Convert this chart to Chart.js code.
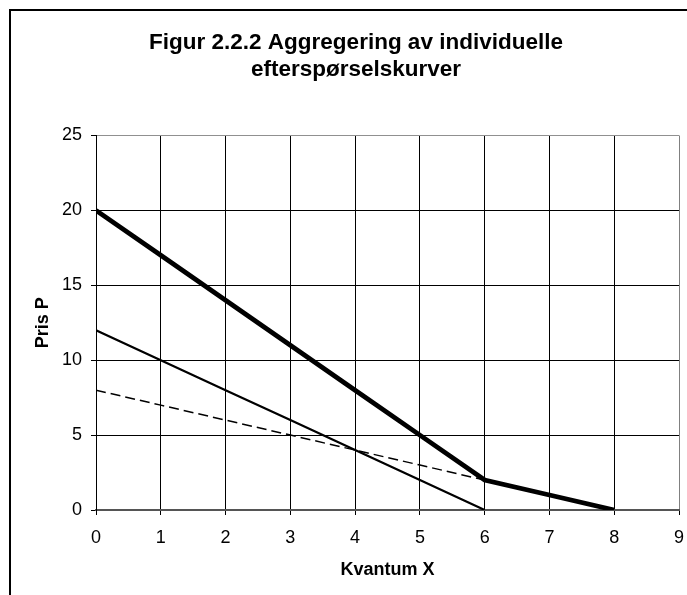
<!DOCTYPE html>
<html>
<head>
<meta charset="utf-8">
<script src="https://cdn.jsdelivr.net/npm/chart.js@4/dist/chart.umd.min.js"></script>
<style>
  html, body { margin: 0; padding: 0; background: #fff; overflow: hidden; }
  #wrap { position: relative; width: 687px; height: 595px; }
  #c { position: absolute; left: 0; top: 0; }
  #frame { position: absolute; left: 9px; top: 9px; width: 800px; height: 700px;
           border-left: 2px solid #000; border-top: 2px solid #000; pointer-events: none; }
</style>
</head>
<body>
<div id="wrap">
  <canvas id="c" width="687" height="595" style="width:687px;height:595px"></canvas>
  <div id="frame"></div>
</div>
<script>
// ---- data ----
const titleLines = ['Figur 2.2.2 Aggregering av individuelle', 'efterspørselskurver'];
const xAxisTitle = 'Kvantum X';
const yAxisTitle = 'Pris P';

const aggregateX = [0, 1, 2, 3, 4, 5, 6, 7, 8];
const aggregateP = [20, 17, 14, 11, 8, 5, 2, 1, 0];

const consumerAX = [0, 1, 2, 3, 4, 5, 6];
const consumerAP = [12, 10, 8, 6, 4, 2, 0];

const consumerBX = [0, 1, 2, 3, 4, 5, 6];
const consumerBP = [8, 7, 6, 5, 4, 3, 2];

const xMin = 0, xMax = 9, xStep = 1;
const yMin = 0, yMax = 25, yStep = 5;

function toPoints(xs, ys) { return xs.map((x, i) => ({ x: x, y: ys[i] })); }

const FONT = "'Liberation Sans', Arial, sans-serif";
Chart.defaults.color = '#000';
Chart.defaults.font.family = FONT;

new Chart(document.getElementById('c'), {
  type: 'line',
  data: {
    datasets: [
      { label: 'Konsument B', data: toPoints(consumerBX, consumerBP), borderColor: '#000',
        borderWidth: 1.5, borderDash: [10, 5], pointRadius: 0, fill: false, tension: 0 },
      { label: 'Konsument A', data: toPoints(consumerAX, consumerAP), borderColor: '#000',
        borderWidth: 2.2, pointRadius: 0, fill: false, tension: 0 },
      { label: 'Aggregert', data: toPoints(aggregateX, aggregateP), borderColor: '#000',
        borderWidth: 4.8, pointRadius: 0, fill: false, tension: 0, borderJoinStyle: 'miter' }
    ]
  },
  options: {
    responsive: false,
    animation: false,
    events: [],
    layout: { padding: { left: 33, right: 8, top: 0, bottom: 0 } },
    plugins: {
      legend: { display: false },
      tooltip: { enabled: false },
      title: {
        display: true,
        text: titleLines,
        color: '#000',
        font: { family: FONT, size: 22.5, weight: 'bold', lineHeight: 1.2 },
        padding: { top: 29, bottom: 52.5 }
      }
    },
    scales: {
      x: {
        type: 'linear',
        min: xMin, max: xMax,
        ticks: { stepSize: xStep, color: '#000', padding: 12, font: { family: FONT, size: 18 } },
        grid: {
          color: (ctx) => (ctx.tick && ctx.tick.value === xMax) ? '#808080' : '#000',
          lineWidth: 1,
          tickLength: 5,
          tickColor: '#000',
          drawTicks: true
        },
        border: { display: true, color: '#555', width: 2 },
        title: { display: true, text: xAxisTitle, color: '#000',
                 font: { family: FONT, size: 18, weight: 'bold', lineHeight: 1.2 },
                 padding: { top: 0, bottom: 14 } },
        afterFit: (s) => { s.height = 85; s.paddingLeft = 0; s.paddingRight = 0; }
      },
      y: {
        type: 'linear',
        min: yMin, max: yMax,
        ticks: { stepSize: yStep, color: '#000', padding: 9, font: { family: FONT, size: 18 } },
        grid: {
          color: (ctx) => (ctx.tick && ctx.tick.value === yMax) ? '#909090' : '#000',
          lineWidth: 1,
          tickLength: 5,
          tickColor: '#000',
          drawTicks: true
        },
        border: { display: true, color: '#000', width: 1 },
        title: { display: true, text: yAxisTitle, color: '#000',
                 font: { family: FONT, size: 18, weight: 'bold', lineHeight: 1.2 },
                 padding: { top: -1, bottom: 0 } },
        afterFit: (s) => { s.width = 63; }
      }
    }
  }
});
</script>
</body>
</html>
